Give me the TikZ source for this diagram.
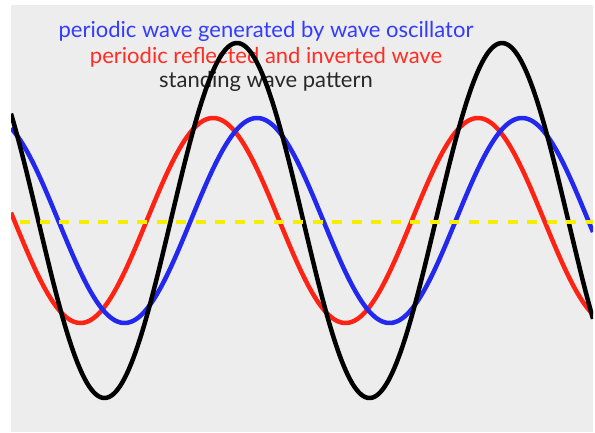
\documentclass[tikz,border=0pt]{standalone}
\usepackage{fontspec}
\setmainfont{Lato}
\usepackage{tikz}
\definecolor{papel}{RGB}{237,237,237}
\definecolor{ondaroja}{RGB}{255,35,20}
\definecolor{ondaazul}{RGB}{35,40,238}
\definecolor{textoazul}{RGB}{50,60,255}
\definecolor{textorojo}{RGB}{255,45,35}
\definecolor{textogris}{RGB}{40,40,40}
\definecolor{amarillo}{RGB}{245,238,0}
\tikzset{
  onda/.style={line width=4.5pt, line join=round, samples=300, domain=11:593},
  leyenda/.style={anchor=base, inner sep=0pt, font=\fontsize{22}{26}\selectfont},
  eje/.style={line width=4pt, dash pattern=on 10pt off 9.5pt, color=amarillo}
}

\begin{document}
\begin{tikzpicture}[x=1pt, y=-1pt]
  \useasboundingbox (0,0) rectangle (595,432);
  \fill[papel] (11,5) rectangle (593,432);
  % leyendas
  \node[leyenda, text=textoazul] (oscilador) at (266,37) {periodic wave generated by wave oscillator};
  \node[leyenda, text=textorojo] (reflejada) at (266,63) {periodic reflected and inverted wave};
  \node[leyenda, text=textogris] (estacionaria) at (266,87) {standing wave pattern};
  % ondas
  \begin{scope}
    \clip (11,5) rectangle (593,432);
    \draw[onda, ondaroja] plot (\x, {220.5+102.5*cos((\x-80.5)/265*360)});
    \draw[onda, ondaazul] plot (\x, {220.5+102.5*cos((\x-124.5)/265*360)});
    \draw[onda, black] plot (\x, {220.5+177.5*cos((\x-104.5)/265*360)});
    \coordinate (ejeini) at (20,222);
    \coordinate (ejefin) at (593,222);
    \draw[eje] (ejeini) -- (ejefin);
  \end{scope}
\end{tikzpicture}
\end{document}
